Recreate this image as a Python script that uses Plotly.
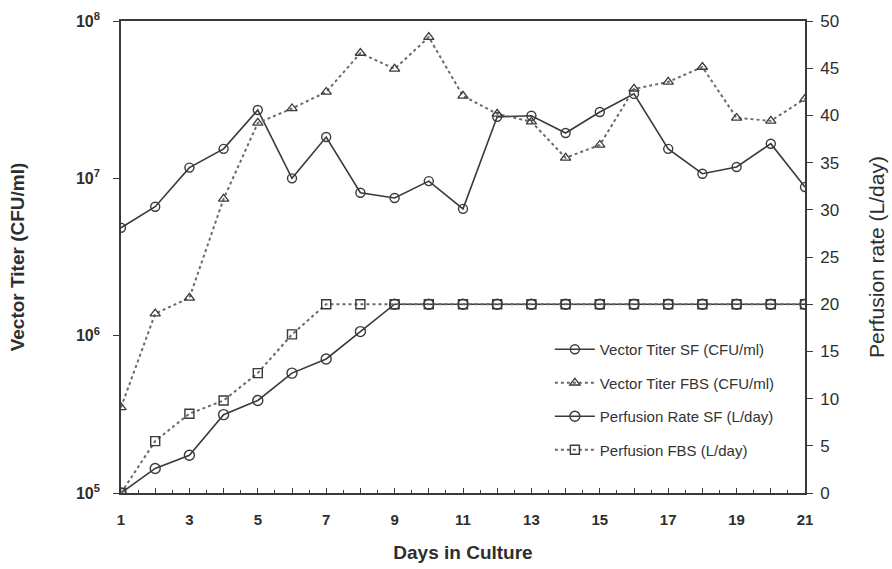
import plotly.graph_objects as go

# Days in culture
days = list(range(1, 22))

# Vector titer (CFU/ml), left log axis
titer_sf = [4.85e6, 6.6e6, 1.17e7, 1.54e7, 2.72e7, 1.0e7, 1.83e7, 8.1e6, 7.5e6, 9.6e6,
            6.4e6, 2.46e7, 2.5e7, 1.94e7, 2.64e7, 3.44e7, 1.54e7, 1.07e7, 1.18e7, 1.66e7, 8.8e6]
titer_fbs = [3.5e5, 1.38e6, 1.74e6, 7.4e6, 2.25e7, 2.78e7, 3.54e7, 6.26e7, 4.96e7, 7.9e7,
             3.34e7, 2.57e7, 2.29e7, 1.35e7, 1.63e7, 3.7e7, 4.1e7, 5.1e7, 2.42e7, 2.32e7, 3.2e7]

# Perfusion rate (L/day), right axis
perf_sf = [0, 2.6, 4.0, 8.3, 9.8, 12.7, 14.2, 17.1, 20, 20, 20, 20, 20, 20, 20, 20, 20, 20, 20, 20, 20]
perf_fbs = [0, 5.5, 8.4, 9.8, 12.7, 16.8, 20, 20, 20, 20, 20, 20, 20, 20, 20, 20, 20, 20, 20, 20, 20]

x_tickvals = list(range(1, 22))
x_ticktext = [f"<b>{d}</b>" if d % 2 == 1 else "" for d in x_tickvals]
y_tickvals = [1e5, 1e6, 1e7, 1e8]
y_ticktext = ["<b>10</b><sup><b>5</b></sup>", "<b>10</b><sup><b>6</b></sup>",
              "<b>10</b><sup><b>7</b></sup>", "<b>10</b><sup><b>8</b></sup>"]

ink = "#3a3a3a"
dot_ink = "#6a6a6a"
text_ink = "#2e2e2e"
font_family = "Liberation Sans, Arial, sans-serif"

fig = go.Figure()

fig.add_trace(go.Scatter(
    x=days, y=titer_sf, name="Vector Titer SF (CFU/ml)", legendgroup="a",
    mode="lines+markers",
    line=dict(color=ink, width=1.6),
    marker=dict(symbol="circle-open", size=9, color=ink, line=dict(width=1.4)),
    yaxis="y"))
fig.add_trace(go.Scatter(
    x=days, y=titer_fbs, name="Vector Titer FBS (CFU/ml)", legendgroup="b",
    mode="lines+markers",
    line=dict(color=dot_ink, width=2, dash="dot"),
    marker=dict(symbol="triangle-up-open", size=9, color=ink, line=dict(width=1.3)),
    yaxis="y"))
fig.add_trace(go.Scatter(
    x=days, y=perf_sf, name="Perfusion Rate SF (L/day)", legendgroup="c",
    mode="lines+markers",
    line=dict(color=ink, width=1.6),
    marker=dict(symbol="circle-open", size=10, color=ink, line=dict(width=1.4)),
    yaxis="y2"))
fig.add_trace(go.Scatter(
    x=days, y=perf_fbs, name="Perfusion FBS (L/day)", legendgroup="d",
    mode="lines+markers",
    line=dict(color=dot_ink, width=2, dash="dot"),
    marker=dict(symbol="square-open", size=9, color=ink, line=dict(width=1.4)),
    yaxis="y2"))

fig.update_layout(
    width=892, height=569,
    margin=dict(l=121, r=87, t=21, b=76),
    paper_bgcolor="white", plot_bgcolor="white",
    font=dict(family=font_family, color=text_ink),
    showlegend=True,
    legend=dict(
        x=0.627, y=0.339, xanchor="left", yanchor="top",
        bgcolor="rgba(0,0,0,0)",
        font=dict(size=15, color="#333333"),
        itemwidth=40,
        traceorder="grouped", tracegroupgap=11,
    ),
    xaxis=dict(
        range=[1, 21], tickvals=x_tickvals, ticktext=x_ticktext,
        ticks="inside", ticklen=5, tickwidth=1.2, tickcolor=ink,
        minor=dict(dtick=0.5, tick0=1, ticks="inside", ticklen=3, tickcolor=ink),
        showline=True, linecolor=ink, linewidth=1.6, mirror=True,
        showgrid=False, zeroline=False, automargin=False,
        tickfont=dict(size=15, color=text_ink),
        ticklabelstandoff=12,
        title=dict(text="<b>Days in Culture</b>", font=dict(size=19), standoff=19),
    ),
    yaxis=dict(
        type="log", range=[5, 8], tickvals=y_tickvals, ticktext=y_ticktext,
        ticks="outside", ticklen=6, tickwidth=1.2, tickcolor=ink,
        showline=True, linecolor=ink, linewidth=1.6,
        showgrid=False, zeroline=False, automargin=False,
        tickfont=dict(size=16, color=text_ink), ticklabelstandoff=10,
        title=dict(text="<b>Vector Titer (CFU/ml)</b>", font=dict(size=19), standoff=46),
    ),
    yaxis2=dict(
        overlaying="y", side="right", range=[0, 50], dtick=5, tick0=0,
        ticks="outside", ticklen=6, tickwidth=1.2, tickcolor=ink,
        showline=True, linecolor=ink, linewidth=1.6,
        showgrid=False, zeroline=False, automargin=False,
        tickfont=dict(size=17, color=text_ink), ticklabelstandoff=4,
        title=dict(text="Perfusion rate (L/day)", font=dict(size=21), standoff=31),
    ),
)

fig.write_html("out.html")
